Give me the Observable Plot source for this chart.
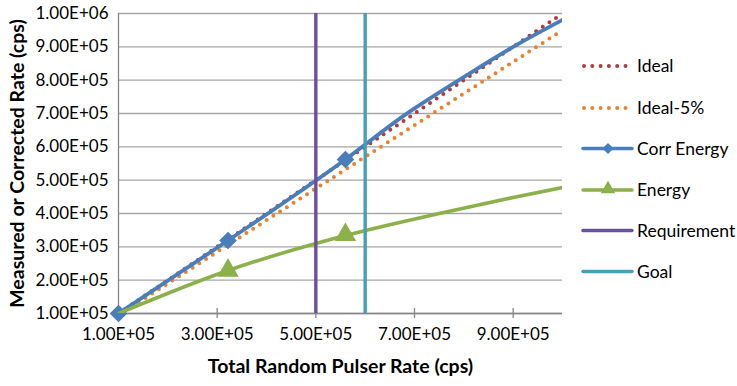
<!DOCTYPE html>
<html><head><meta charset="utf-8">
<script src="https://cdn.jsdelivr.net/npm/d3@7"></script>
<script src="https://cdn.jsdelivr.net/npm/@observablehq/plot@0.6"></script>
<style>
body{margin:0;background:#fff;}
#wrap{position:relative;width:737px;height:386px;font-family:Lato,sans-serif;}
#legend{position:absolute;left:0;top:0;}
</style></head><body><div id="wrap"></div>
<script>
// ---- data ----
const idealX  = [100000,200000,300000,400000,500000,600000,700000,800000,900000,1000000];
const idealY  = [100000,200000,300000,400000,500000,600000,700000,800000,900000,1000000];
const ideal5Y = [95000,190000,285000,380000,475000,570000,665000,760000,855000,950000];
const corrX   = [100000,322000,560000,680000,790000,900000,1000000];
const corrY   = [100000,319000,562000,695000,800000,900000,981000];
const corrMarkX = [100000,322000,560000];
const corrMarkY = [100000,319000,562000];
const energyX = [100000,322000,560000,750000,900000,1000000];
const energyY = [100000,229000,334000,400000,448000,478000];
const energyMarkX = [100000,322000,560000];
const energyMarkY = [100000,229000,336000];
const requirementX = [500000];
const goalX = [600000];
const legendLabels = ["Ideal","Ideal-5%","Corr Energy","Energy","Requirement","Goal"];
const seriesColors = ["#B23A3A","#E8822F","#4A7EBB","#8CB04A","#6B509A","#43A0B8"];
const yTicks = [100000,200000,300000,400000,500000,600000,700000,800000,900000,1000000];
const xTicks = [100000,300000,500000,700000,900000];
const xTitle = "Total Random Pulser Rate (cps)";
const yTitle = "Measured or Corrected Rate (cps)";

const fmt = d => {
  const [m, e] = d.toExponential(2).split("e");
  return m + "E" + e[0] + e.slice(1).padStart(2, "0");
};
const pts = (xs, ys) => xs.map((x, i) => ({x, y: ys[i]}));

const plot = Plot.plot({
  width: 737, height: 386,
  marginLeft: 118, marginRight: 175, marginTop: 13, marginBottom: 73,
  style: {fontFamily: "Lato, sans-serif", fontSize: "17px", color: "#000", background: "#fff"},
  x: {domain: [100000, 1000000]},
  y: {domain: [100000, 1000000]},
  marks: [
    Plot.gridY(yTicks, {stroke: "#a6a6a6", strokeOpacity: 1, strokeWidth: 1.3}),
    Plot.ruleX([100000], {stroke: "#868686", strokeWidth: 1.3}),
    Plot.ruleY([100000], {stroke: "#868686", strokeWidth: 1.3}),
    Plot.ruleX(xTicks, {y1: 100000, y2: 100000, insetTop: -5, insetBottom: -5, stroke: "#868686", strokeWidth: 1.3}),
    Plot.axisY(yTicks, {tickSize: 0, tickPadding: 10, tickFormat: fmt, label: null}),
    Plot.axisX(xTicks, {tickSize: 0, tickPadding: 14, tickFormat: fmt, label: null}),
    Plot.line(pts(idealX, idealY), {x: "x", y: "y", stroke: seriesColors[0], strokeWidth: 4, strokeDasharray: "0 8", strokeLinecap: "round", clip: true}),
    Plot.line(pts(idealX, ideal5Y), {x: "x", y: "y", stroke: seriesColors[1], strokeWidth: 4, strokeDasharray: "0 8", strokeLinecap: "round", clip: true}),
    Plot.line(pts(corrX, corrY), {x: "x", y: "y", stroke: seriesColors[2], strokeWidth: 3.8, curve: "monotone-x", clip: true}),
    Plot.dot(pts(corrMarkX, corrMarkY), {x: "x", y: "y", symbol: "diamond2", r: 7, fill: seriesColors[2], stroke: seriesColors[2]}),
    Plot.line(pts(energyX, energyY), {x: "x", y: "y", stroke: seriesColors[3], strokeWidth: 3.6, curve: "monotone-x", clip: true}),
    Plot.dot(pts(energyMarkX.slice(1), energyMarkY.slice(1)), {x: "x", y: "y", symbol: "triangle", r: 7, fill: seriesColors[3], stroke: seriesColors[3]}),
    Plot.ruleX(requirementX, {stroke: seriesColors[4], strokeWidth: 3.4}),
    Plot.ruleX(goalX, {stroke: seriesColors[5], strokeWidth: 3.4}),
    Plot.text([xTitle], {frameAnchor: "bottom", dy: 59, fontWeight: "bold", fontSize: 19.5, fill: "#000"}),
    Plot.text([yTitle], {frameAnchor: "left", textAnchor: "middle", rotate: -90, dx: -101, fontWeight: "bold", fontSize: 19.5, fill: "#000"})
  ]
});
const wrap = document.getElementById("wrap");
wrap.appendChild(plot);

// legend overlay (drawn inside right margin)
const lg = d3.select(wrap).append("svg").attr("id", "legend").attr("width", 737).attr("height", 386);
const rowY = [66, 108, 148.5, 190, 230.5, 271.5];
legendLabels.forEach((lab, i) => {
  const g = lg.append("g").attr("transform", `translate(0,${rowY[i]})`);
  if (i < 2) {
    g.append("line").attr("x1", 584).attr("x2", 630).attr("y1", 0).attr("y2", 0)
      .attr("stroke", seriesColors[i]).attr("stroke-width", 4).attr("stroke-linecap", "round").attr("stroke-dasharray", "0 8.3");
  } else {
    g.append("line").attr("x1", 583).attr("x2", 632).attr("y1", 0).attr("y2", 0)
      .attr("stroke", seriesColors[i]).attr("stroke-width", 3.4).attr("stroke-linecap", "round");
  }
  if (i === 2) g.append("path").attr("d", d3.symbol(d3.symbolDiamond2, 80)()).attr("transform", "translate(608,0)").attr("fill", seriesColors[i]);
  if (i === 3) g.append("path").attr("d", d3.symbol(d3.symbolTriangle, 90)()).attr("transform", "translate(608,-1)").attr("fill", seriesColors[i]);
  g.append("text").attr("x", 637).attr("y", 0).attr("dy", "0.35em").attr("font-size", 17.5).attr("font-family", "Lato, sans-serif").text(lab);
});
</script></body></html>
